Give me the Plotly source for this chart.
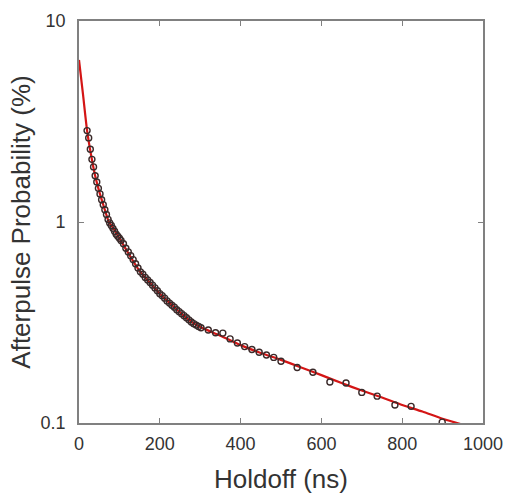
import plotly.graph_objects as go

# Measured afterpulse probability (%) vs holdoff (ns)
holdoff_ns = [20, 24, 28, 32, 36, 40, 44, 48, 52, 56, 60, 64, 68, 72, 76, 80, 84, 88, 92, 96, 100,
              104, 110, 116, 122, 128, 134, 140, 146, 152, 158, 164, 170, 176, 182, 188, 194, 200,
              206, 212, 218, 224, 230, 236, 242, 248, 254, 260, 266, 272, 278, 284, 290, 296, 302,
              320, 338, 356, 374, 392, 410, 428, 446, 464, 482, 500,
              540, 579, 621, 661, 700, 738, 782, 822, 899]
afterpulse_pct = [2.85, 2.62, 2.30, 2.05, 1.88, 1.70, 1.58, 1.47, 1.38, 1.29, 1.22, 1.15, 1.09, 1.03, 0.99,
                  0.96, 0.93, 0.90, 0.87, 0.85, 0.83,
                  0.81, 0.78, 0.74, 0.71, 0.68, 0.65, 0.62, 0.59, 0.565, 0.55, 0.53, 0.515, 0.50, 0.485,
                  0.47, 0.455, 0.44,
                  0.43, 0.418, 0.405, 0.395, 0.385, 0.377, 0.366, 0.358, 0.35, 0.342, 0.334, 0.326,
                  0.318, 0.312, 0.307, 0.302, 0.298,
                  0.29, 0.281, 0.28, 0.262, 0.25, 0.24, 0.232, 0.225, 0.218, 0.212, 0.203,
                  0.189, 0.179, 0.160, 0.158, 0.142, 0.136, 0.123, 0.121, 0.101]

# Fitted curve
fit_x = [0, 10, 20, 30, 40, 50, 60, 74, 85, 100, 120, 150, 175, 200, 225, 250, 275, 300,
         350, 400, 450, 500, 550, 600, 650, 700, 750, 800, 850, 900, 950, 1000]
fit_y = [6.4, 4.3, 2.85, 2.15, 1.70, 1.42, 1.22, 1.0, 0.93, 0.83, 0.71, 0.57, 0.50, 0.44, 0.395,
         0.355, 0.322, 0.300, 0.272, 0.244, 0.223, 0.206, 0.189, 0.173, 0.158, 0.145, 0.134,
         0.123, 0.114, 0.105, 0.098, 0.091]

x_ticks = [0, 200, 400, 600, 800, 1000]
y_ticks = [0.1, 1, 10]
y_tick_text = ["0.1", "1", "10"]

fig = go.Figure()
fig.add_trace(go.Scatter(x=fit_x, y=fit_y, mode="lines",
                         line=dict(color="#d41515", width=2.2, shape="spline", smoothing=0.6),
                         showlegend=False))
fig.add_trace(go.Scatter(x=holdoff_ns, y=afterpulse_pct, mode="markers",
                         marker=dict(symbol="circle-open", size=6, color="#3a2a2a",
                                     line=dict(width=1.4, color="#3a2a2a")),
                         showlegend=False))

font_family = "Liberation Sans, Arial, Helvetica"
axis_common = dict(showline=True, linecolor="#808080", linewidth=1.8, mirror="ticks",
                   ticks="inside", ticklen=5, tickwidth=1.2, tickcolor="#808080",
                   showgrid=False, zeroline=False, automargin=False,
                   tickfont=dict(family=font_family, size=18, color="#333333"),
                   title_font=dict(family=font_family, size=26, color="#333333"))

fig.update_xaxes(range=[0, 1000], tickvals=x_ticks, title_text="Holdoff (ns)",
                 ticklabelstandoff=3, title_standoff=19, **axis_common)
fig.update_yaxes(type="log", range=[-1, 1], tickvals=y_ticks, ticktext=y_tick_text,
                 title_text="Afterpulse Probability (%)", ticklabelstandoff=8, title_standoff=2,
                 **axis_common)

fig.update_layout(width=506, height=494, plot_bgcolor="white", paper_bgcolor="white",
                  margin=dict(l=79, r=23, t=21, b=71, autoexpand=False))
fig.write_html("out.html")
